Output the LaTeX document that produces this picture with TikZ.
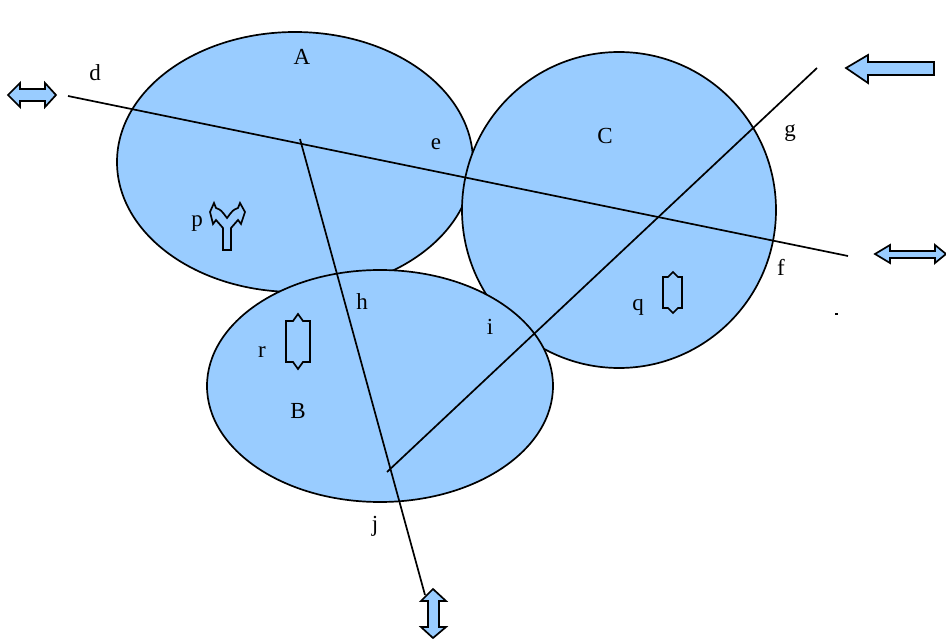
\documentclass[tikz,border=0pt]{standalone}
\usepackage{fontspec}
\setmainfont{Liberation Serif}
\usetikzlibrary{shapes.geometric}
\definecolor{fillblue}{HTML}{99CCFF}
\begin{document}
\begin{tikzpicture}[x=1pt,y=-1pt,
  blob/.style={ellipse,draw=black,fill=fillblue,line width=1.7pt,inner sep=0pt},
  lbl/.style={font=\fontsize{23}{26}\selectfont,inner sep=0pt},
  ray/.style={line width=1.7pt},
  arr/.style={draw=black,fill=fillblue,line width=1.7pt,line join=miter},
  sym/.style={draw=black,fill=none,line width=1.7pt,line join=miter}]
\useasboundingbox (0,0) rectangle (946,639);
% ellipses
\node[blob,minimum width=356pt,minimum height=260pt] (A) at (295,162) {};
\node[blob,minimum width=314pt,minimum height=316pt] (C) at (619,210) {};
\node[blob,minimum width=346pt,minimum height=232pt] (B) at (380,386) {};
% lines
\coordinate (d0) at (68,96);
\coordinate (f0) at (848,256);
\coordinate (h0) at (300,139);
\coordinate (j0) at (425,595);
\coordinate (i0) at (387,472);
\coordinate (g0) at (817,68);
\draw[ray] (d0) -- (f0);
\draw[ray] (h0) -- (j0);
\draw[ray] (i0) -- (g0);
% big arrows
\draw[arr] (8,95) -- (20,83) -- (20,89) -- (45,89) -- (45,83) -- (56,95) -- (45,107) -- (45,101) -- (20,101) -- (20,107) -- cycle;
\draw[arr] (846,68) -- (868,55) -- (868,62) -- (934,62) -- (934,75) -- (868,75) -- (868,83) -- cycle;
\draw[arr] (875,254) -- (890,245) -- (890,251) -- (935,251) -- (935,245) -- (946,254) -- (935,263) -- (935,258) -- (890,258) -- (890,263) -- cycle;
\draw[arr] (433,589) -- (446,601) -- (439,601) -- (439,627) -- (446,627) -- (433,638) -- (421,627) -- (428,627) -- (428,601) -- (421,601) -- cycle;
% small symbols
\draw[sym] (223,250) -- (231,250) -- (231,228) .. controls (234,224) .. (238,220) -- (241,224) -- (245,212) -- (240,203) -- (238,208) .. controls (233,210) .. (227,218) .. controls (221,210) .. (216,208) -- (214,203) -- (210,212) -- (213,224) -- (216,220) .. controls (220,224) .. (223,228) -- cycle;
\draw[sym] (663,277) -- (668,277) -- (673,272) -- (678,277) -- (682,277) -- (682,308) -- (678,308) -- (673,313) -- (668,308) -- (663,308) -- cycle;
\draw[sym] (286,321) -- (293,321) -- (298,314) -- (303,321) -- (310,321) -- (310,362) -- (303,362) -- (298,369) -- (293,362) -- (286,362) -- cycle;
\draw[line width=1.4pt] (835,314) -- (838,314);
% labels
\node[lbl] (lA) at (302,57) {A};
\node[lbl] (ld) at (95,73) {d};
\node[lbl] (le) at (436,144) {e};
\node[lbl] (lC) at (605,136) {C};
\node[lbl] (lg) at (790,133) {g};
\node[lbl] (lp) at (197,224) {p};
\node[lbl] (lf) at (781,267) {f};
\node[lbl] (lh) at (362,302) {h};
\node[lbl] (li) at (490,327) {i};
\node[lbl] (lq) at (638,307) {q};
\node[lbl] (lr) at (262,352) {r};
\node[lbl] (lB) at (298,411) {B};
\node[lbl] (lj) at (375,526) {j};
\end{tikzpicture}
\end{document}
